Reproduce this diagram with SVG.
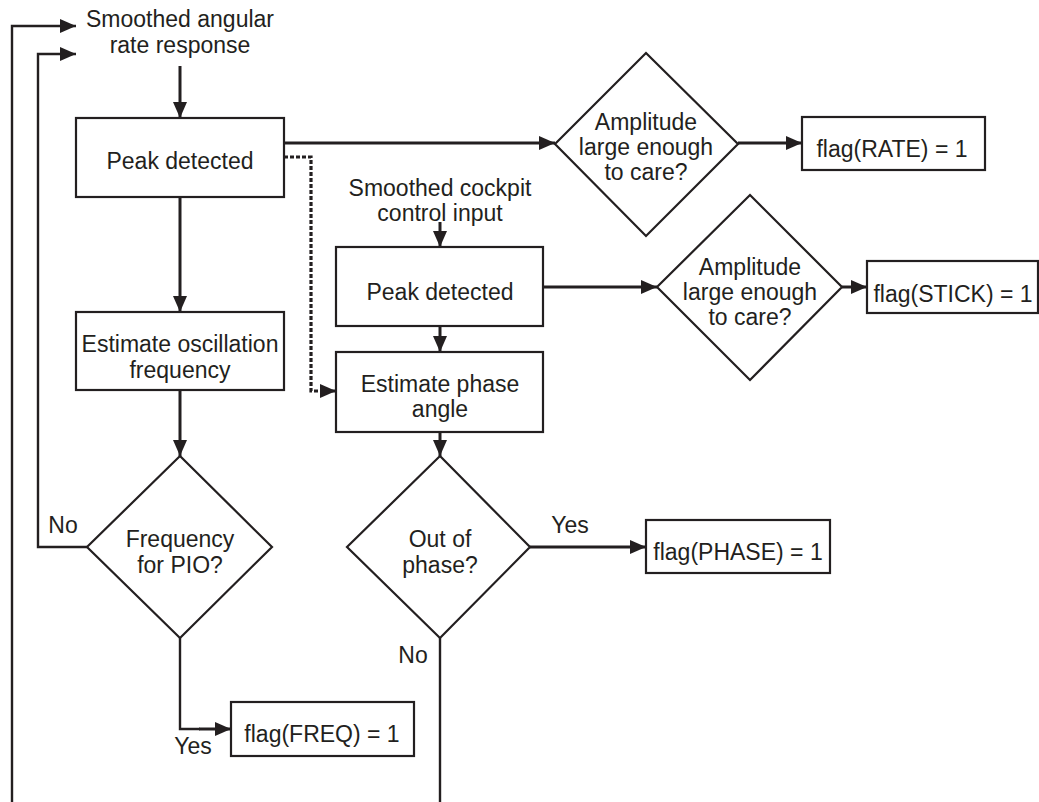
<svg xmlns="http://www.w3.org/2000/svg" width="1039" height="802" viewBox="0 0 1039 802">
<style>
.box{fill:#fff;stroke:#231f20;stroke-width:2.2}
.t{font-family:"Liberation Sans",Arial,sans-serif;font-size:23px;fill:#231f20;text-anchor:middle}
.c{fill:none;stroke:#231f20;stroke-width:3}
.c2{fill:none;stroke:#231f20;stroke-width:2.4}
.d{fill:none;stroke:#231f20;stroke-width:3.2;stroke-dasharray:4 2}
</style>
<defs>
<marker id="ah" markerUnits="userSpaceOnUse" markerWidth="18" markerHeight="14" refX="16" refY="7" orient="auto">
<path d="M0,0 L16,7 L0,14 Z" fill="#231f20"/>
</marker>
</defs>
<rect width="1039" height="802" fill="#fff"/>
<g id="connectors">
<path class="c" d="M180,66 V118" marker-end="url(#ah)"/>
<path class="c" d="M284,143 H555" marker-end="url(#ah)"/>
<path class="c" d="M738,143 H802" marker-end="url(#ah)"/>
<path class="d" d="M284,157 H311 V391 H336" marker-end="url(#ah)"/>
<path class="c" d="M440,222 V247" marker-end="url(#ah)"/>
<path class="c" d="M543,287 H657" marker-end="url(#ah)"/>
<path class="c" d="M842,287 H867" marker-end="url(#ah)"/>
<path class="c" d="M440,326 V352" marker-end="url(#ah)"/>
<path class="c" d="M180,197 V312" marker-end="url(#ah)"/>
<path class="c" d="M180,390 V456" marker-end="url(#ah)"/>
<path class="c" d="M440,432 V456" marker-end="url(#ah)"/>
<path class="c2" d="M87,547 H38 V54 H76" marker-end="url(#ah)"/>
<path class="c2" d="M12,802 V26 H76" marker-end="url(#ah)"/>
<path class="c2" d="M180,638 V729 H200"/>
<path class="c" d="M199,729 H231" marker-end="url(#ah)"/>
<path class="c" d="M530,547 H646" marker-end="url(#ah)"/>
<path class="c2" d="M440,638 V802"/>
</g>
<g id="input-rate">
<text class="t" x="180" y="27">Smoothed angular</text>
<text class="t" x="180" y="53">rate response</text>
</g>
<g id="peak1">
<rect class="box" x="76" y="118" width="208" height="79"/>
<text class="t" x="180" y="169">Peak detected</text>
</g>
<g id="amp1">
<polygon class="box" points="646,53 738,144 646,236 555,144"/>
<text class="t" x="646" y="130">Amplitude</text>
<text class="t" x="646" y="155">large enough</text>
<text class="t" x="646" y="180">to care?</text>
</g>
<g id="flag-rate">
<rect class="box" x="802" y="117" width="183" height="53"/>
<text class="t" x="892" y="157">flag(RATE) = 1</text>
</g>
<g id="input-stick">
<text class="t" x="440" y="196">Smoothed cockpit</text>
<text class="t" x="440" y="221">control input</text>
</g>
<g id="peak2">
<rect class="box" x="336" y="247" width="207" height="79"/>
<text class="t" x="440" y="300">Peak detected</text>
</g>
<g id="amp2">
<polygon class="box" points="750,195 842,287 750,380 657,287"/>
<text class="t" x="750" y="275">Amplitude</text>
<text class="t" x="750" y="300">large enough</text>
<text class="t" x="750" y="325">to care?</text>
</g>
<g id="flag-stick">
<rect class="box" x="867" y="261" width="171" height="52"/>
<text class="t" x="953" y="302">flag(STICK) = 1</text>
</g>
<g id="phase-est">
<rect class="box" x="336" y="352" width="207" height="80"/>
<text class="t" x="440" y="392">Estimate phase</text>
<text class="t" x="440" y="417">angle</text>
</g>
<g id="freq-est">
<rect class="box" x="76" y="312" width="208" height="78"/>
<text class="t" x="180" y="352">Estimate oscillation</text>
<text class="t" x="180" y="378">frequency</text>
</g>
<g id="freq-pio">
<polygon class="box" points="180,456 272,547 180,638 87,547"/>
<text class="t" x="180" y="547">Frequency</text>
<text class="t" x="180" y="573">for PIO?</text>
</g>
<g id="out-of-phase">
<polygon class="box" points="440,456 530,547 440,638 347,547"/>
<text class="t" x="440" y="547">Out of</text>
<text class="t" x="440" y="573">phase?</text>
</g>
<g id="flag-phase">
<rect class="box" x="646" y="520" width="184" height="53"/>
<text class="t" x="738" y="560">flag(PHASE) = 1</text>
</g>
<g id="flag-freq">
<rect class="box" x="231" y="702" width="183" height="54"/>
<text class="t" x="322" y="742">flag(FREQ) = 1</text>
</g>
<g id="labels">
<text class="t" x="63" y="533">No</text>
<text class="t" x="570" y="533">Yes</text>
<text class="t" x="413" y="663">No</text>
<text class="t" x="193" y="754">Yes</text>
</g>
</svg>
